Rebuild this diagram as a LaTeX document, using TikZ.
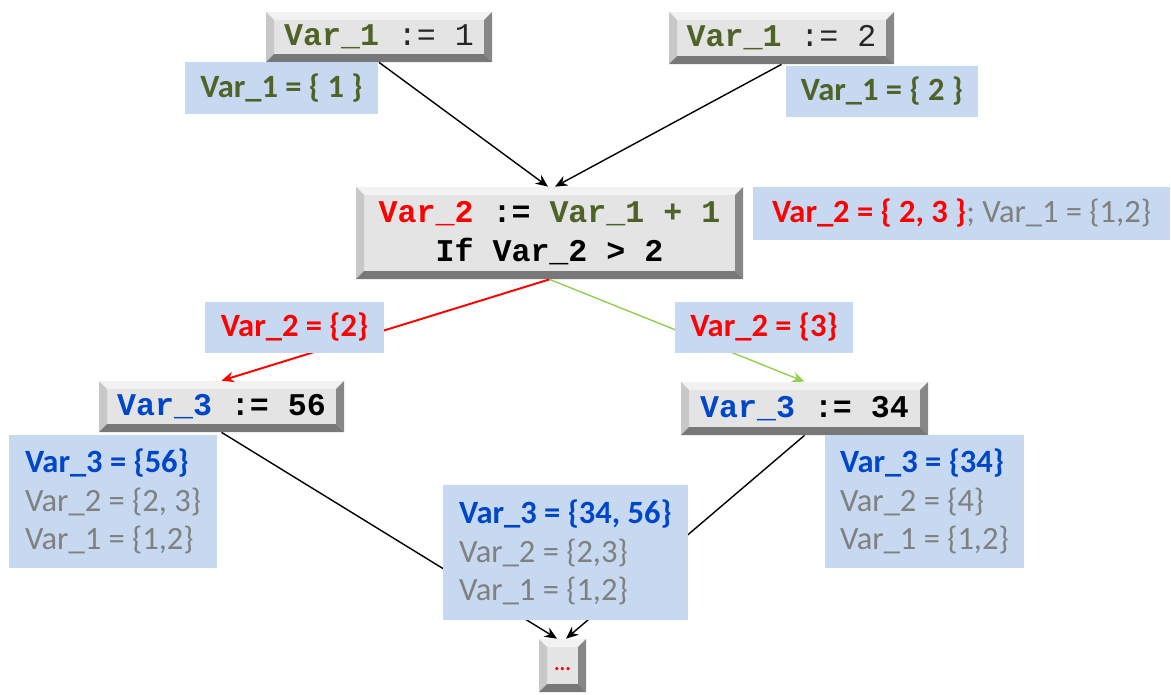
\documentclass[tikz,border=0pt]{standalone}
\usepackage{fontspec}
\setmainfont{Carlito}
\newfontfamily\codefont{Liberation Mono}
\definecolor{varolive}{RGB}{79, 98, 40}
\definecolor{varred}{RGB}{255, 0, 0}
\definecolor{varblue}{RGB}{0, 70, 200}
\definecolor{setgrey}{RGB}{128, 128, 128}
\definecolor{codedark}{RGB}{38, 38, 38}
\definecolor{lblblue}{RGB}{198, 217, 240}
\definecolor{branchgreen}{RGB}{146, 208, 80}
\definecolor{boxface}{RGB}{228, 228, 228}
\definecolor{bevtop}{RGB}{242, 242, 242}
\definecolor{bevleft}{RGB}{200, 200, 200}
\definecolor{bevright}{RGB}{135, 135, 135}
\definecolor{bevbot}{RGB}{120, 120, 120}
\usepackage{tikz}
\usetikzlibrary{arrows.meta, calc}

\begin{document}
\begin{tikzpicture}[
  codebox/.style={fill=boxface, inner sep=0pt, align=center,
    font=\codefont\bfseries\fontsize{18}{21}\selectfont,
    path picture={
      \coordinate (pnw) at (path picture bounding box.north west);
      \coordinate (pne) at (path picture bounding box.north east);
      \coordinate (psw) at (path picture bounding box.south west);
      \coordinate (pse) at (path picture bounding box.south east);
      \fill[bevtop] (pnw) -- (pne) -- ([shift={(-0.16,-0.16)}]pne) -- ([shift={(0.16,-0.16)}]pnw) -- cycle;
      \fill[bevleft] (pnw) -- (psw) -- ([shift={(0.16,0.16)}]psw) -- ([shift={(0.16,-0.16)}]pnw) -- cycle;
      \fill[bevright] (pne) -- (pse) -- ([shift={(-0.16,0.16)}]pse) -- ([shift={(-0.16,-0.16)}]pne) -- cycle;
      \fill[bevbot] (psw) -- (pse) -- ([shift={(-0.16,0.16)}]pse) -- ([shift={(0.16,0.16)}]psw) -- cycle;
    }},
  setlbl/.style={fill=lblblue, inner sep=0pt, font=\fontsize{18.5}{22}\selectfont},
  setstack/.style={setlbl, align=left},
  flow/.style={-{Stealth[length=7pt, width=6pt]}, line width=0.8pt}
]
  \useasboundingbox (0, 0) rectangle (23.42, -13.88);

  % first assignments
  \node[codebox, minimum width=4.52cm, minimum height=1.0cm] (assignA) at (7.58, -0.74)
    {\textcolor{varolive}{Var\_1} \textcolor{codedark}{\mdseries := 1}};
  \node[codebox, minimum width=4.5cm, minimum height=1.04cm] (assignB) at (15.63, -0.76)
    {\textcolor{varolive}{Var\_1} \textcolor{codedark}{\mdseries := 2}};
  \node[setlbl, minimum width=3.86cm, minimum height=1.04cm] (setA) at (5.63, -1.76)
    {\textbf{\color{varolive}Var\_1 = \{ 1 \}}};
  \node[setlbl, minimum width=3.84cm, minimum height=1.02cm] (setB) at (17.64, -1.83)
    {\textbf{\color{varolive}Var\_1 = \{ 2 \}}};

  % merge and test
  \node[codebox, minimum width=7.74cm, minimum height=1.84cm] (merge) at (10.99, -4.66)
    {\textcolor{varred}{Var\_2} := \textcolor{varolive}{Var\_1 + 1}\\[1pt]If Var\_2 > 2};
  \node[setlbl, minimum width=8.34cm, minimum height=1.06cm] (setC) at (19.23, -4.27)
    {\textbf{\color{varred}Var\_2 = \{ 2, 3 \}}\textcolor{setgrey}{; Var\_1 = \{1,2\}}};

  \draw[flow] (assignA.south) -- ([xshift=-0.03cm]merge.north);
  \draw[flow] (assignB.south) -- ([xshift=0.11cm]merge.north);

  % branches
  \node[codebox, minimum width=4.9cm, minimum height=1.02cm] (branchL) at (4.43, -8.13)
    {\textcolor{varblue}{Var\_3} := 56};
  \node[codebox, minimum width=4.94cm, minimum height=1.06cm] (branchR) at (16.09, -8.17)
    {\textcolor{varblue}{Var\_3} := 34};

  \draw[flow, varred, line width=1.1pt] (merge.south) -- (branchL.north);
  \draw[flow, branchgreen] (merge.south) -- (branchR.north);

  \node[setlbl, minimum width=3.58cm, minimum height=1.02cm] (condL) at (5.89, -6.55)
    {\textbf{\color{varred}Var\_2 = \{2\}}};
  \node[setlbl, minimum width=3.56cm, minimum height=1.02cm] (condR) at (15.28, -6.55)
    {\textbf{\color{varred}Var\_2 = \{3\}}};

  % join
  \node[codebox, minimum width=0.94cm, minimum height=1.06cm] (rest) at (11.25, -13.31)
    {\raisebox{-6pt}{\fontspec{Carlito}\bfseries\fontsize{12}{12}\selectfont\textcolor{varred}{...}}};

  \draw[flow] (branchL.south) -- ([xshift=-0.11cm]rest.north);
  \draw[flow] (branchR.south) -- ([xshift=0.07cm]rest.north);

  \node[setstack, minimum width=4.16cm, minimum height=2.66cm] (setD) at (2.26, -10.03)
    {\textbf{\color{varblue}Var\_3 = \{56\}}\\\textcolor{setgrey}{Var\_2 = \{2, 3\}}\\\textcolor{setgrey}{Var\_1 = \{1,2\}}};
  \node[setstack, minimum width=3.98cm, minimum height=2.66cm] (setE) at (18.49, -10.03)
    {\textbf{\color{varblue}Var\_3 = \{34\}}\\\textcolor{setgrey}{Var\_2 = \{4\}}\\\textcolor{setgrey}{Var\_1 = \{1,2\}}};
  \node[setstack, minimum width=4.9cm, minimum height=2.7cm] (setF) at (11.31, -11.05)
    {\textbf{\color{varblue}Var\_3 = \{34, 56\}}\\\textcolor{setgrey}{Var\_2 = \{2,3\}}\\\textcolor{setgrey}{Var\_1 = \{1,2\}}};
\end{tikzpicture}
\end{document}
